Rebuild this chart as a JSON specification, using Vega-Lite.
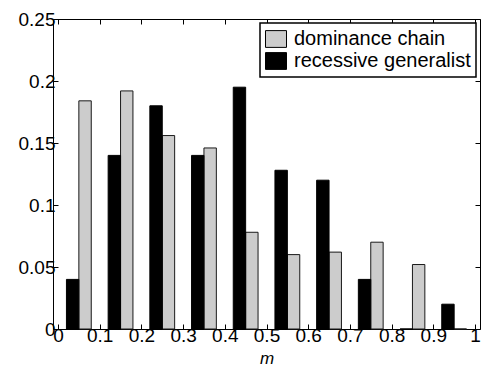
{
  "$schema": "https://vega.github.io/schema/vega-lite/v6.json",
  "width": 427,
  "height": 310,
  "autosize": {"type": "none"},
  "padding": {"left": 53, "top": 19, "right": 2, "bottom": 38},
  "config": {
    "font": "Liberation Sans",
    "view": {"stroke": null},
    "axis": {
      "domainColor": "black",
      "domainWidth": 1,
      "tickColor": "black",
      "tickWidth": 1,
      "tickSize": -5,
      "grid": false,
      "labelColor": "black",
      "labelFontSize": 19,
      "labelFont": "Liberation Sans",
      "titleColor": "black"
    }
  },
  "data": {
    "values": [
      {"m": 0.05, "series": "recessive generalist", "freq": 0.04},
      {"m": 0.15, "series": "recessive generalist", "freq": 0.14},
      {"m": 0.25, "series": "recessive generalist", "freq": 0.18},
      {"m": 0.35, "series": "recessive generalist", "freq": 0.14},
      {"m": 0.45, "series": "recessive generalist", "freq": 0.195},
      {"m": 0.55, "series": "recessive generalist", "freq": 0.128},
      {"m": 0.65, "series": "recessive generalist", "freq": 0.12},
      {"m": 0.75, "series": "recessive generalist", "freq": 0.04},
      {"m": 0.85, "series": "recessive generalist", "freq": 0},
      {"m": 0.95, "series": "recessive generalist", "freq": 0.02},
      {"m": 0.05, "series": "dominance chain", "freq": 0.184},
      {"m": 0.15, "series": "dominance chain", "freq": 0.192},
      {"m": 0.25, "series": "dominance chain", "freq": 0.156},
      {"m": 0.35, "series": "dominance chain", "freq": 0.146},
      {"m": 0.45, "series": "dominance chain", "freq": 0.078},
      {"m": 0.55, "series": "dominance chain", "freq": 0.06},
      {"m": 0.65, "series": "dominance chain", "freq": 0.062},
      {"m": 0.75, "series": "dominance chain", "freq": 0.07},
      {"m": 0.85, "series": "dominance chain", "freq": 0.052},
      {"m": 0.95, "series": "dominance chain", "freq": 0}
    ]
  },
  "layer": [
    {
      "transform": [{"filter": "datum.series === 'dominance chain'"}],
      "mark": {"type": "bar", "orient": "vertical", "width": 12.4, "xOffset": 6.2, "stroke": "#1a1a1a", "strokeWidth": 1},
      "encoding": {
        "x": {
          "field": "m", "type": "quantitative",
          "scale": {"domain": [0, 1], "nice": false, "zero": false},
          "axis": {"orient": "bottom", "values": [0, 0.1, 0.2, 0.3, 0.4, 0.5, 0.6, 0.7, 0.8, 0.9, 1], "format": "~g", "labelPadding": 2, "labelFlush": false, "labelOverlap": false, "title": "m", "titleFontStyle": "italic", "titleFontWeight": "normal", "titleFontSize": 17, "titleBaseline": "top", "titleY": 21}
        },
        "y": {
          "field": "freq", "type": "quantitative",
          "scale": {"domain": [0, 0.25], "nice": false},
          "axis": {"orient": "left", "values": [0, 0.05, 0.1, 0.15, 0.2, 0.25], "format": "~g", "labelPadding": 3, "labelFlush": false, "labelOverlap": false, "title": null}
        },
        "color": {
          "field": "series", "type": "nominal",
          "scale": {"domain": ["dominance chain", "recessive generalist"], "range": ["#cccccc", "#000000"]},
          "legend": {
            "orient": "none", "legendX": 207, "legendY": 4,
            "title": null,
            "symbolType": "M-1,-0.8H1V0.8H-1Z",
            "symbolSize": 441,
            "symbolStrokeColor": "black",
            "symbolStrokeWidth": 1,
            "symbolOpacity": 1,
            "labelFontSize": 20,
            "labelColor": "black",
            "labelLimit": 0,
            "labelOffset": 7,
            "padding": 5,
            "rowPadding": 0,
            "strokeColor": "black",
            "fillColor": "white",
            "encode": {"legend": {"update": {"strokeWidth": {"value": 1.5}}}}
          }
        }
      }
    },
    {
      "transform": [{"filter": "datum.series === 'recessive generalist'"}],
      "mark": {"type": "bar", "orient": "vertical", "width": 12.4, "xOffset": -6.2, "stroke": "black", "strokeWidth": 1},
      "encoding": {
        "x": {
          "field": "m", "type": "quantitative",
          "axis": {"orient": "top", "values": [0, 0.1, 0.2, 0.3, 0.4, 0.5, 0.6, 0.7, 0.8, 0.9, 1], "labels": false, "title": null}
        },
        "y": {
          "field": "freq", "type": "quantitative",
          "axis": {"orient": "right", "values": [0, 0.05, 0.1, 0.15, 0.2, 0.25], "labels": false, "title": null}
        },
        "color": {"field": "series", "type": "nominal"}
      }
    }
  ],
  "resolve": {"axis": {"x": "independent", "y": "independent"}}
}
